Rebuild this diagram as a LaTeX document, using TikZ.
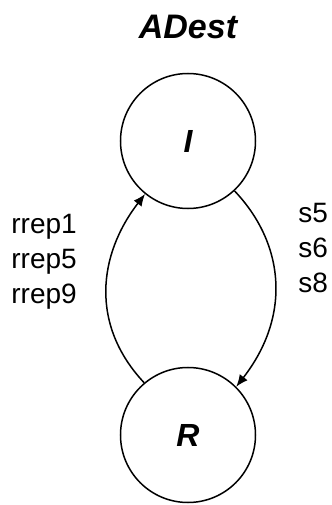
\documentclass[tikz,border=0pt]{standalone}
\usepackage{fontspec}
\setmainfont{Liberation Sans}
\usetikzlibrary{arrows.meta}

\begin{document}
\begin{tikzpicture}[x=.5pt,y=.5pt,font=\fontsize{14}{17.5}\selectfont,>={Latex[length=6pt,width=5pt]},line width=.75pt,
  estado/.style={circle,draw,minimum size=67.5pt,inner sep=0pt,font=\fontsize{16}{18}\selectfont\bfseries\itshape}]
\useasboundingbox (0,0) rectangle (332,505);
\node[font=\fontsize{17}{20}\selectfont\bfseries\itshape] (titulo) at (188,478) {ADest};
\node[estado] (I) at (188,364) {I};
\node[estado] (R) at (188,70) {R};
% transiciones entre estados
\draw[->] (R.130) .. controls (90,180) and (98,250) .. (I.231);
\draw[->] (I.313) .. controls (284,262) and (292,190) .. (R.45);
\node[anchor=west,align=left] (etqIzq) at (4,243) {rrep1\\rrep5\\rrep9};
\node[anchor=west,align=left] (etqDer) at (291,257) {s5\\s6\\s8};
\end{tikzpicture}
\end{document}
